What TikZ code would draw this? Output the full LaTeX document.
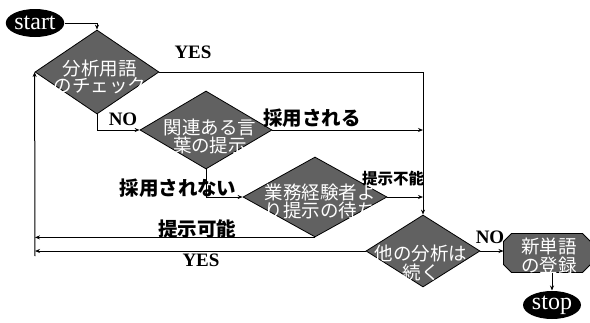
\documentclass[tikz,border=0pt]{standalone}
\usepackage{fontspec}
\setmainfont{Liberation Serif}
\newfontfamily\cjk{Noto Sans CJK JP}
\usetikzlibrary{shapes.geometric,arrows.meta,calc}
\begin{document}
\begin{tikzpicture}[x=1pt,y=-1pt,
  line width=1pt,
  arr/.style={-{Stealth[length=5pt,width=4pt]}},
  dia/.style={diamond,draw=black,fill=black!62,inner sep=0pt,line width=0.8pt},
  dtxt/.style={text=white,align=center,font=\cjk\fontsize{18.5}{17}\selectfont,inner sep=0pt},
  term/.style={ellipse,fill=black,text=white,inner sep=0pt,minimum width=58pt,minimum height=28pt,font=\fontsize{24}{24}\selectfont},
  lbl/.style={font=\cjk\bfseries\fontsize{19.5}{19.5}\selectfont,inner sep=0pt},
  yn/.style={font=\bfseries\fontsize{19}{19}\selectfont,inner sep=0pt}]
\useasboundingbox (0,0) rectangle (590,322);
% nodes
\node[term] (start) at (35,23) {start};
\node[dia,minimum width=124pt,minimum height=84pt] (d1) at (97,72) {};
\node[dtxt] at (100,77) {分析用語\\のチェック};
\node[dia,minimum width=132pt,minimum height=78pt] (d2) at (206,130) {};
\node[dtxt] at (210,136) {関連ある言\\葉の提示};
\node[dia,minimum width=144pt,minimum height=80pt] (d3) at (315,197) {};
\node[dtxt] at (320,201) {業務経験者よ\\り提示の待ち};
\node[dia,minimum width=114pt,minimum height=72pt] (d4) at (423,251) {};
\node[dtxt] at (421,263) {他の分析は\\続く};
\node[minimum width=86pt,minimum height=38pt,inner sep=0pt] (reg) at (547,253) {};
\filldraw[draw=black,fill=black!62,line width=0.8pt]
  ($(reg.north west)+(8,0)$) -- ($(reg.north east)+(-8,0)$) -- ($(reg.north east)+(0,8)$)
  -- ($(reg.south east)+(0,-8)$) -- ($(reg.south east)+(-8,0)$) -- ($(reg.south west)+(8,0)$)
  -- ($(reg.south west)+(0,-8)$) -- ($(reg.north west)+(0,8)$) -- cycle;
\node[dtxt] at (549,256) {新単語\\の登録};
\node[term] (stop) at (552,305) {stop};
\coordinate (lb) at (35,256);
% connectors
\draw[arr] (start.east) -| (d1.north);
\draw[arr] (d1.east) -| (d4.north);
\draw[arr] (d1.south) |- (d2.west);
\draw[arr] (d2.east) -- (d2.east -| d4.north);
\draw[arr] (d2.south) |- (d3.west);
\draw[arr] (d3.east) -- (d3.east -| d4.north);
\draw[arr] (d3.south) -- (d3.south -| lb);
\draw[arr] (d4.west) -- (d4.west -| lb);
\draw[arr] (lb) -- (d1.west);
\draw[arr] (d4.east) -- (d4.east -| reg.west);
\draw[arr] (reg.south -| stop.north) -- (stop.north);
% labels
\node[yn] (l1) at (193,52) {YES};
\node[yn] (l2) at (123,119) {NO};
\node[lbl] (l3) at (312,118) {採用される};
\node[lbl] (l4) at (178,188) {採用されない};
\node[lbl,font=\cjk\bfseries\fontsize{15.5}{15.5}\selectfont] (l5) at (393,179) {提示不能};
\node[lbl] (l6) at (197,229) {提示可能};
\node[yn] (l7) at (201,260) {YES};
\node[yn] (l8) at (490,237) {NO};
\end{tikzpicture}
\end{document}
